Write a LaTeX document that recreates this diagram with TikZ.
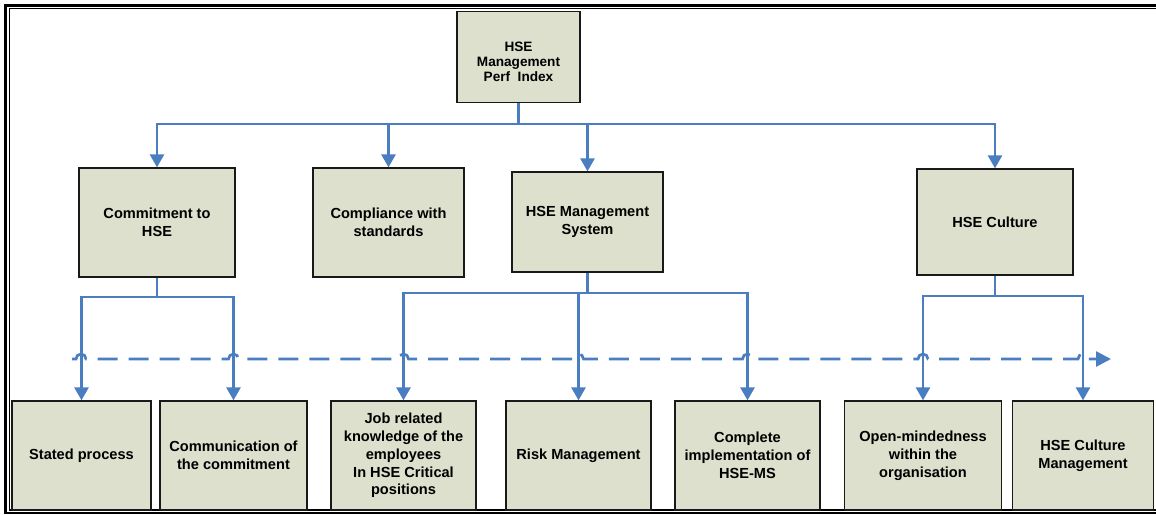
\documentclass[tikz,border=0pt]{standalone}
\usepackage{fontspec}
\setmainfont{Liberation Sans}
\usetikzlibrary{arrows.meta}
\definecolor{boxfill}{RGB}{221,224,205}
\definecolor{linkblue}{RGB}{74,126,193}
\tikzset{
  kpi/.style={draw=black!90, line width=1.3pt, fill=boxfill, inner sep=0pt,
    align=center, font=\bfseries\fontsize{14.6}{17.8}\selectfont},
  kpitop/.style={kpi, font=\bfseries\fontsize{13.6}{15}\selectfont},
  link/.style={draw=linkblue, line width=2.7pt},
  linkarrow/.style={link, -{Triangle[width=14pt,length=13pt]}},
  flow/.style={draw=linkblue, line width=2.7pt, dash pattern=on 20pt off 11pt,
    -{Triangle[width=15pt,length=15pt]}},
}
\begin{document}
\begin{tikzpicture}[x=1pt,y=-1pt]
\useasboundingbox (0,0) rectangle (1156,514);

% page frame (double rule, open to the right)
\draw[line width=2.7pt] (1160,5.3) -- (5.3,5.3) -- (5.3,513) -- (1160,513);
\draw[line width=1.3pt] (1160,8.7) -- (9.3,8.7) -- (9.3,510) -- (1160,510);

% root
\node[kpitop, minimum width=123pt, minimum height=91pt] (root) at (518.5,57)
  {\rule{0pt}{20pt}HSE\\Management\\Perf\ \ Index};

% second level
\node[kpi, minimum width=156pt, minimum height=109pt] (commit) at (157,222.5)
  {Commitment to\\HSE};
\node[kpi, minimum width=151pt, minimum height=109pt] (comply) at (388.5,222.5)
  {Compliance with\\standards};
\node[kpi, minimum width=151pt, minimum height=100pt] (hsems) at (587.5,222)
  {HSE Management\\System};
\node[kpi, minimum width=156pt, minimum height=106pt] (culture) at (995,222)
  {HSE Culture};

% third level
\node[kpi, minimum width=139pt, minimum height=109pt] (stated) at (81.5,455.5)
  {Stated process};
\node[kpi, minimum width=147pt, minimum height=109pt] (comm) at (233.5,455.5)
  {Communication of\\the commitment};
\node[kpi, minimum width=145pt, minimum height=109pt] (job) at (403.5,455.5)
  {Job related\\knowledge of the\\employees\\In HSE Critical\\positions};
\node[kpi, minimum width=145pt, minimum height=109pt] (risk) at (578.5,455.5)
  {Risk Management};
\node[kpi, minimum width=145pt, minimum height=109pt] (complete) at (747.5,455.5)
  {Complete\\implementation of\\HSE-MS};
\node[kpi, minimum width=157pt, minimum height=109pt] (open) at (923,455.5)
  {Open-mindedness\\within the\\organisation};
\node[kpi, minimum width=141pt, minimum height=109pt] (cultmgmt) at (1083,455.5)
  {HSE Culture\\Management};

% junction points of the bus lines
\coordinate (busRoot) at (518.5,124);
\coordinate (busCommit) at (157,297);
\coordinate (busMS) at (587.5,293);
\coordinate (busCulture) at (995,296);

% time / maturity arrow with hops over the vertical links
\coordinate (flowStart) at (72,359);
\coordinate (flowEnd) at (1111,359);
\draw[flow] (flowStart)
  \foreach \xc in {81,233.5,403.5,578.5,747.5,923,1083} {
    -- (\xc-5,359) arc[start angle=180,end angle=360,radius=5]
  } -- (flowEnd);

% root to second level
\draw[link] (root) -- (busRoot);
\draw[linkarrow] (busRoot) -| (commit);
\draw[linkarrow] (busRoot) -| (comply);
\draw[linkarrow] (busRoot) -| (hsems);
\draw[linkarrow] (busRoot) -| (culture);

% commitment branch
\draw[link] (commit) -- (busCommit);
\draw[linkarrow] (busCommit) -| (stated);
\draw[linkarrow] (busCommit) -| (comm);

% management system branch
\draw[link] (hsems) -- (busMS);
\draw[linkarrow] (busMS) -| (job);
\draw[linkarrow] (busMS) -| (risk);
\draw[linkarrow] (busMS) -| (complete);

% culture branch
\draw[link] (culture) -- (busCulture);
\draw[linkarrow] (busCulture) -| (open);
\draw[linkarrow] (busCulture) -| (cultmgmt);
\end{tikzpicture}
\end{document}
